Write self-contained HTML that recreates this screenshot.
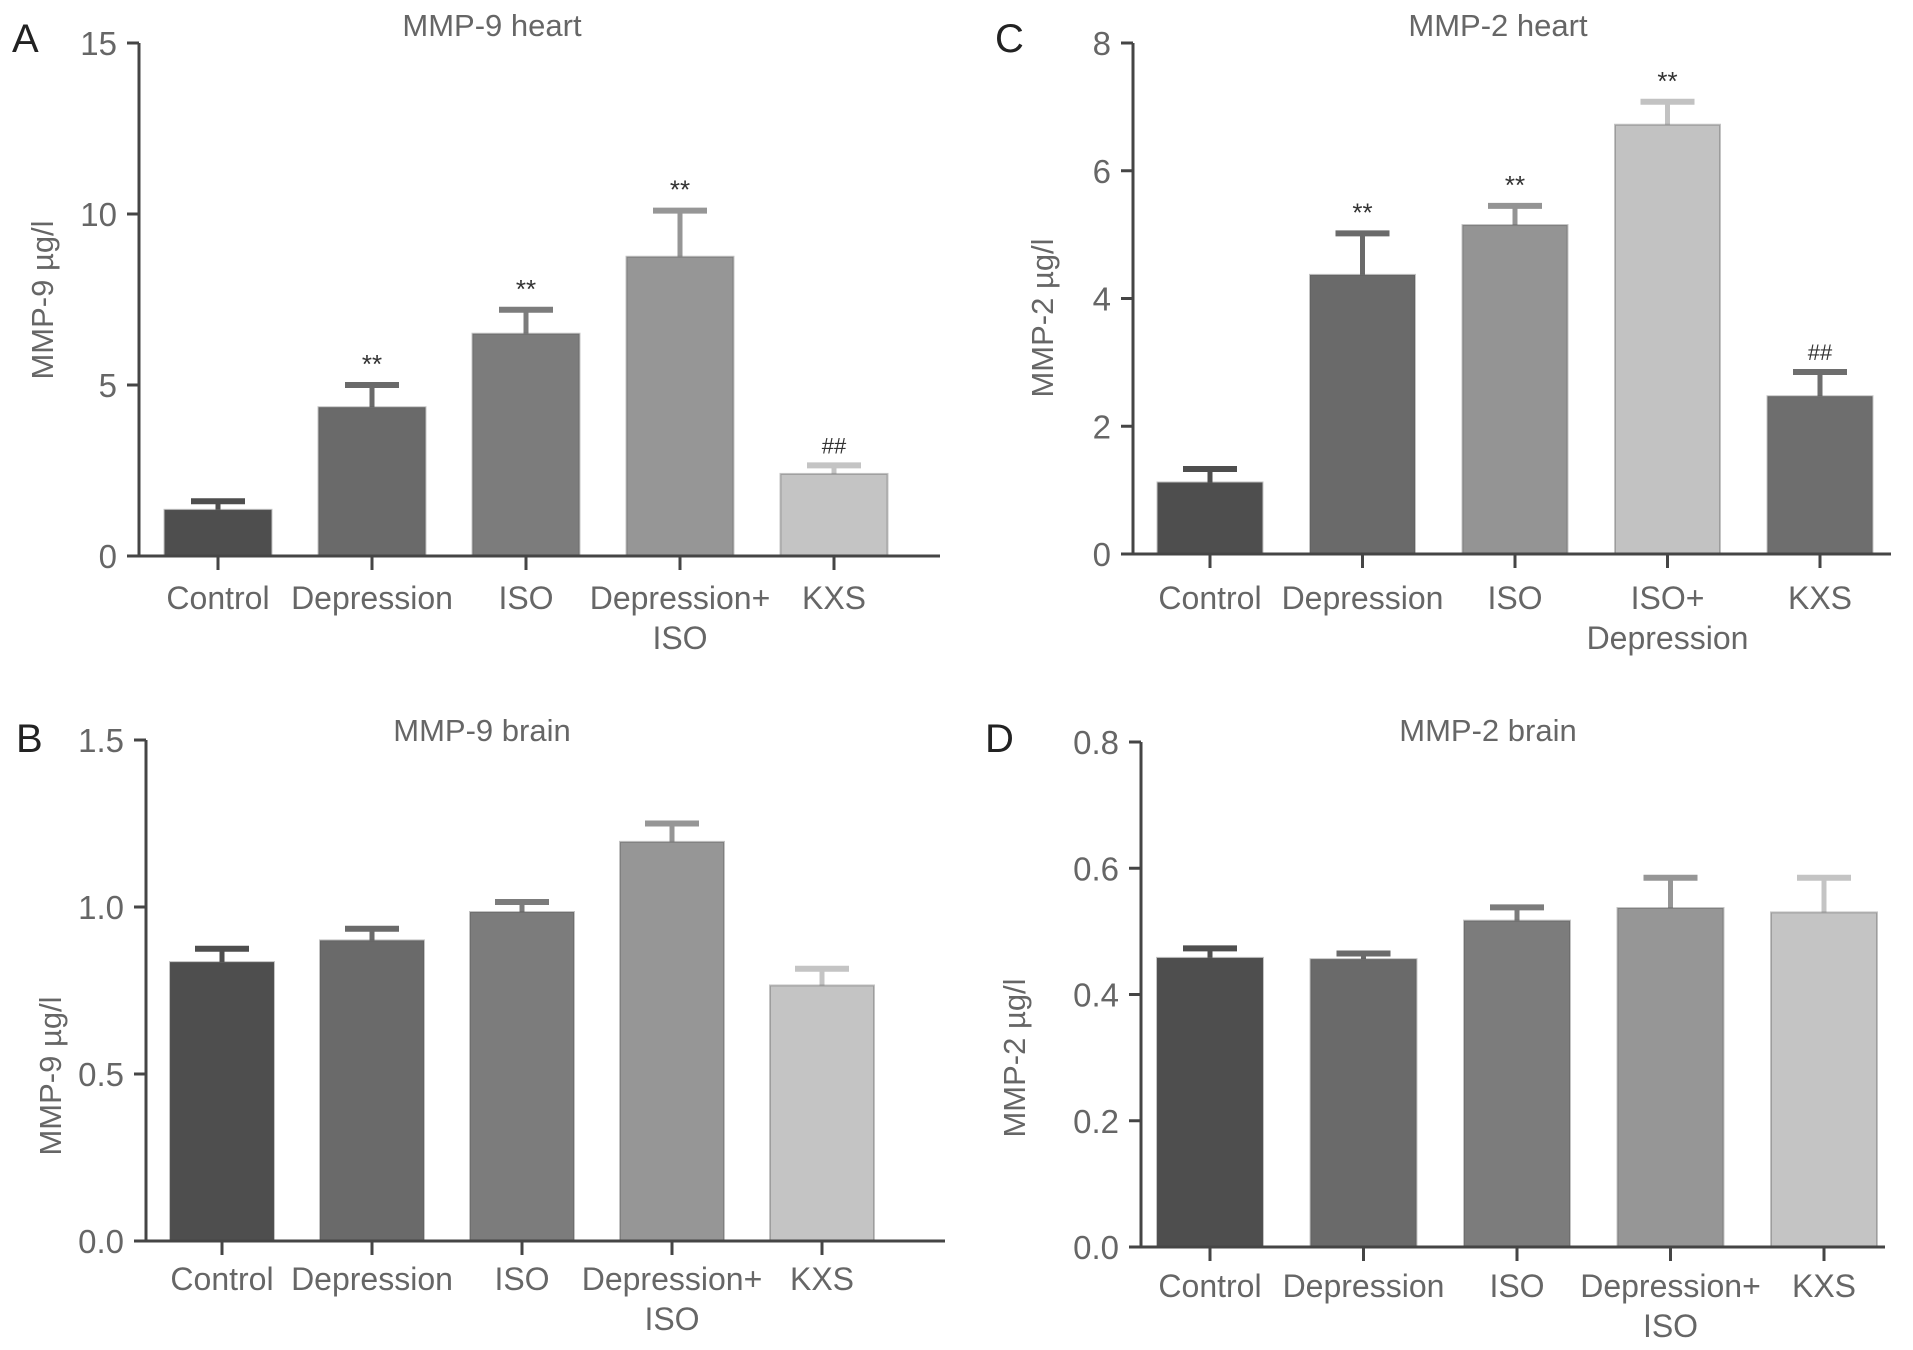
<!DOCTYPE html>
<html><head><meta charset="utf-8"><style>
html,body{margin:0;padding:0;background:#fff;}
svg{display:block;font-family:"Liberation Sans",Arial,sans-serif;}
</style></head><body>
<svg id="fig" width="1913" height="1350" viewBox="0 0 1913 1350" xmlns="http://www.w3.org/2000/svg"></svg>
<script>
// Panel A: MMP-9 heart
const catsA = [["Control"],["Depression"],["ISO"],["Depression+","ISO"],["KXS"]];
const valsA = [1.35, 4.35, 6.5, 8.75, 2.4];
const errA = [1.6, 5.0, 7.2, 10.1, 2.65];
const sigA = ["", "**", "**", "**", "##"];
const ticksA = [0, 5, 10, 15];
const tickLabelsA = ["0", "5", "10", "15"];
// Panel B: MMP-9 brain
const catsB = [["Control"],["Depression"],["ISO"],["Depression+","ISO"],["KXS"]];
const valsB = [0.835, 0.9, 0.985, 1.195, 0.765];
const errB = [0.875, 0.935, 1.015, 1.25, 0.815];
const sigB = ["", "", "", "", ""];
const ticksB = [0, 0.5, 1.0, 1.5];
const tickLabelsB = ["0.0", "0.5", "1.0", "1.5"];
// Panel C: MMP-2 heart
const catsC = [["Control"],["Depression"],["ISO"],["ISO+","Depression"],["KXS"]];
const valsC = [1.12, 4.37, 5.15, 6.72, 2.47];
const errC = [1.33, 5.02, 5.45, 7.08, 2.85];
const sigC = ["", "**", "**", "**", "##"];
const ticksC = [0, 2, 4, 6, 8];
const tickLabelsC = ["0", "2", "4", "6", "8"];
// Panel D: MMP-2 brain
const catsD = [["Control"],["Depression"],["ISO"],["Depression+","ISO"],["KXS"]];
const valsD = [0.458, 0.456, 0.517, 0.537, 0.53];
const errD = [0.473, 0.465, 0.538, 0.585, 0.585];
const sigD = ["", "", "", "", ""];
const ticksD = [0, 0.2, 0.4, 0.6, 0.8];
const tickLabelsD = ["0.0", "0.2", "0.4", "0.6", "0.8"];

const NS = "http://www.w3.org/2000/svg";
const svg = document.getElementById("fig");
function mk(tag, attrs, parent, text){
  const e = document.createElementNS(NS, tag);
  for (const k in attrs) e.setAttribute(k, attrs[k]);
  if (text !== undefined) e.textContent = text;
  (parent || svg).appendChild(e);
  return e;
}
const AX = "#454545", TXT = "#666";
const colsStd = ["#4e4e4e","#6a6a6a","#7c7c7c","#969696","#c4c4c4"];
const colsC = ["#4e4e4e","#6a6a6a","#949494","#c2c2c2","#6e6e6e"];

function panel(p){
  const g = mk("g", {});
  
  
  const ymax = p.ticks[p.ticks.length-1];
  const y = v => p.y0 - (v / ymax) * (p.y0 - p.yTop);
  const x = i => p.c0 + i * p.step;
  const L = mk("text", {x:p.letterX, y:p.letterY, "font-size":40, fill:"#222"}, g, p.letter);
  
  
  const T = mk("text", {x:p.titleX, y:p.titleY, "font-size":31, fill:TXT, "text-anchor":"middle"}, g, p.title);
  
  
  const YL = mk("text", {x:0, y:0, "font-size":31, fill:TXT, "text-anchor":"middle", transform:`translate(${p.ylX},${p.ylY}) rotate(-90)`}, g, p.ylabel);
  
  
  for (let i=0;i<p.vals.length;i++){
    const cx = x(i), top = y(p.vals[i]), et = y(p.err[i]);
    const col = p.cols[i];
    const el = mk("line", {x1:cx, x2:cx, y1:top, y2:et, stroke:col, "stroke-width":5}, g);
    
    
    const cap = mk("line", {x1:cx-27, x2:cx+27, y1:et, y2:et, stroke:col, "stroke-width":6}, g);
    
    
    const b = mk("rect", {x:cx-p.bw/2, y:top, width:p.bw, height:p.y0-top, fill:col, stroke:"#555", "stroke-opacity":0.35, "stroke-width":2}, g);
    
    
    if (p.sig[i]){
      const s = mk("text", {x:cx, y:et-12, "font-size":p.sig[i]==="##"?22:26, fill:"#333", "text-anchor":"middle"}, g, p.sig[i]);
      
      
    }
    const xt = mk("line", {x1:cx, x2:cx, y1:p.y0, y2:p.y0+14, stroke:AX, "stroke-width":3}, g);
    
    
    p.cats[i].forEach((ln, k) => {
      const t = mk("text", {x:cx, y:p.labY + k*40, "font-size":32, fill:TXT, "text-anchor":"middle"}, g, ln);
      
      
    });
  }
  const ya = mk("line", {x1:p.ax, x2:p.ax, y1:p.yTop, y2:p.y0+1.5, stroke:AX, "stroke-width":3}, g);
  
  
  const xa = mk("line", {x1:p.ax-12, x2:p.xEnd, y1:p.y0, y2:p.y0, stroke:AX, "stroke-width":3}, g);
  
  
  p.ticks.forEach((v, k) => {
    const tk = mk("line", {x1:p.ax-12, x2:p.ax, y1:y(v), y2:y(v), stroke:AX, "stroke-width":3}, g);
    
    
    const tl = mk("text", {x:p.ax-22, y:y(v)+12, "font-size":33, fill:TXT, "text-anchor":"end"}, g, p.tickLabels[k]);
    
    
  });
}

panel({id:"mmp9-heart", letter:"A", letterX:12, letterY:52, title:"MMP-9 heart", titleX:492, titleY:36,
  ylabel:"MMP-9 µg/l", ylX:53, ylY:300, ax:139, yTop:43, y0:556, xEnd:940, c0:218, step:154, bw:107,
  cats:catsA, vals:valsA, err:errA, sig:sigA, ticks:ticksA, tickLabels:tickLabelsA, cols:colsStd, labY:609});
panel({id:"mmp9-brain", letter:"B", letterX:16, letterY:752, title:"MMP-9 brain", titleX:482, titleY:741,
  ylabel:"MMP-9  µg/l", ylX:61, ylY:1076, ax:146, yTop:740, y0:1241, xEnd:945, c0:222, step:150, bw:104,
  cats:catsB, vals:valsB, err:errB, sig:sigB, ticks:ticksB, tickLabels:tickLabelsB, cols:colsStd, labY:1290});
panel({id:"mmp2-heart", letter:"C", letterX:995, letterY:52, title:"MMP-2 heart", titleX:1498, titleY:36,
  ylabel:"MMP-2 µg/l", ylX:1053, ylY:318, ax:1133, yTop:43, y0:554, xEnd:1891, c0:1210, step:152.5, bw:105,
  cats:catsC, vals:valsC, err:errC, sig:sigC, ticks:ticksC, tickLabels:tickLabelsC, cols:colsC, labY:609});
panel({id:"mmp2-brain", letter:"D", letterX:985, letterY:752, title:"MMP-2 brain", titleX:1488, titleY:741,
  ylabel:"MMP-2 µg/l", ylX:1025, ylY:1058, ax:1141, yTop:742, y0:1247, xEnd:1885, c0:1210, step:153.5, bw:106,
  cats:catsD, vals:valsD, err:errD, sig:sigD, ticks:ticksD, tickLabels:tickLabelsD, cols:colsStd, labY:1297});
</script>
</body></html>
